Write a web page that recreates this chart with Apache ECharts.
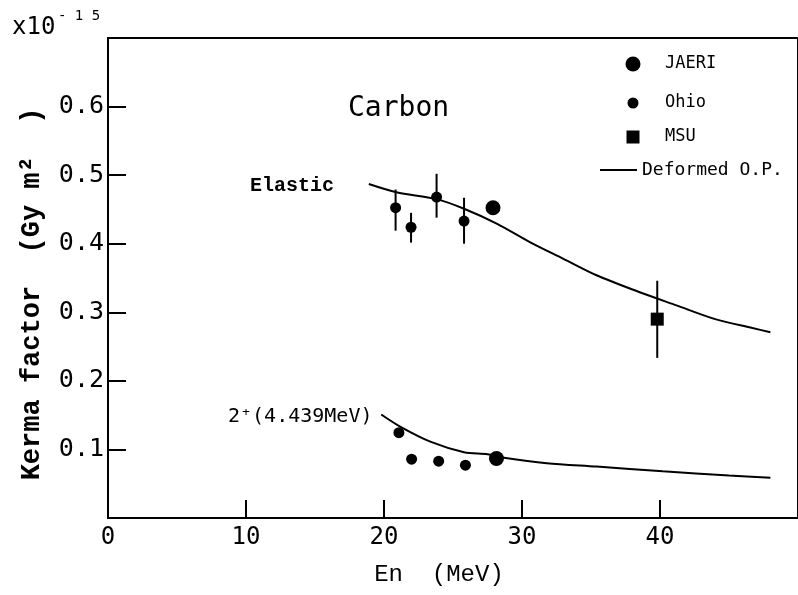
<!DOCTYPE html>
<html>
<head>
<meta charset="utf-8">
<script src="https://cdn.jsdelivr.net/npm/echarts@6/dist/echarts.min.js"></script>
<style>html,body{margin:0;padding:0;background:#fff}#c{width:798px;height:595px}</style>
</head>
<body>
<div id="c"></div>
<script>
// ---- data ----
var xTicks = [0, 10, 20, 30, 40];
var yTicks = [0.1, 0.2, 0.3, 0.4, 0.5, 0.6];

// Deformed O.P. calculations
var elasticCurve = [[18.9,0.487],[20.9,0.475],[23.8,0.465],[25.8,0.451],[28.2,0.429],[30.6,0.402],[33.0,0.378],[35.4,0.354],[38.3,0.331],[41.2,0.310],[44.0,0.290],[46.7,0.277],[48.0,0.271]];
var inelasticCurve = [[19.8,0.151],[21.2,0.133],[23.4,0.111],[25.8,0.096],[27.5,0.093],[28.7,0.088],[31.8,0.080],[35.4,0.075],[40.2,0.068],[45.0,0.062],[48.0,0.0586]];

// measurements
var ohioPoints = [[20.84,0.4525],[21.96,0.424],[23.81,0.468],[25.8,0.433],[21.08,0.1245],[22.0,0.0857],[23.96,0.0828],[25.9,0.077]];
var jaeriPoints = [[27.9,0.4525],[28.15,0.0867]];
var msuPoints = [[39.8,0.290]];

// error bars: [x, low, high]
var errorBars = [[20.84,0.419,0.479],[21.96,0.4016,0.445],[23.81,0.438,0.502],[25.8,0.400,0.467],[39.8,0.2335,0.346]];

var mono = "'DejaVu Sans Mono', monospace";
var serifMono = "'Liberation Mono', 'Courier New', monospace";

var chart = echarts.init(document.getElementById('c'), null, {renderer: 'canvas'});
chart.setOption({
  animation: false,
  backgroundColor: '#fff',
  grid: {left: 108, right: -7, top: 38, bottom: 77, show: true, borderColor: '#000', borderWidth: 2, backgroundColor: 'transparent'},
  xAxis: {
    type: 'value', min: 0, max: 50, interval: 10,
    name: 'En  (MeV)', nameLocation: 'middle', nameGap: 45,
    nameTextStyle: {fontFamily: serifMono, fontSize: 24, color: '#000', padding: [0, 28, 0, 0]},
    axisLine: {show: true, lineStyle: {color: '#000', width: 2}},
    axisTick: {show: true, inside: true, length: 18, lineStyle: {color: '#000', width: 2},
      customValues: xTicks},
    axisLabel: {fontFamily: mono, fontSize: 24, color: '#000', margin: 8,
      customValues: xTicks, formatter: function(v){ return xTicks.indexOf(v) >= 0 ? String(v) : ''; }},
    splitLine: {show: false}
  },
  yAxis: {
    type: 'value', min: 0, max: 0.7, interval: 0.1,
    name: 'Kerma factor  (Gy m\u00b2  )', nameLocation: 'middle', nameRotate: 90, nameGap: 62,
    nameTextStyle: {fontFamily: serifMono, fontSize: 27, color: '#000', fontWeight: 'bold', padding: [0, 32, 0, 0]},
    axisLine: {show: true, lineStyle: {color: '#000', width: 2}},
    axisTick: {show: true, inside: true, length: 18, lineStyle: {color: '#000', width: 2},
      customValues: yTicks},
    axisLabel: {fontFamily: mono, fontSize: 25, color: '#000', margin: 4,
      customValues: yTicks, formatter: function(v){ return v.toFixed(1); }},
    splitLine: {show: false}
  },
  legend: [
    {left: 625.5, top: 55.5, padding: 0, itemWidth: 15, itemHeight: 15, data: [{name: 'JAERI', icon: 'circle'}],
      textStyle: {fontFamily: mono, fontSize: 17, color: '#000', padding: [0, 0, 0, 19.5]}, selectedMode: false},
    {left: 627.5, top: 94.5, padding: 0, itemWidth: 11, itemHeight: 11, data: [{name: 'Ohio', icon: 'circle'}],
      textStyle: {fontFamily: mono, fontSize: 17, color: '#000', padding: [0, 0, 0, 21.5]}, selectedMode: false},
    {left: 626.5, top: 128.5, padding: 0, itemWidth: 13, itemHeight: 13, data: [{name: 'MSU', icon: 'rect'}],
      textStyle: {fontFamily: mono, fontSize: 17, color: '#000', padding: [0, 0, 0, 20.5]}, selectedMode: false},
    {left: 600, top: 161, padding: 0, itemWidth: 37, itemHeight: 14, data: [{name: 'Deformed O.P.', icon: 'path://M0,6H37V8H0Z'}],
      textStyle: {fontFamily: mono, fontSize: 18, color: '#000'}, selectedMode: false}
  ],
  graphic: [
    {type: 'text', left: 12, top: 16, style: {text: 'x10', fontFamily: mono, fontSize: 24, fill: '#000'}},
    {type: 'text', left: 58, top: 9, style: {text: '- 1 5', fontFamily: mono, fontSize: 14, fill: '#000'}},
    {type: 'text', left: 348, top: 95, style: {text: 'Carbon', fontFamily: mono, fontSize: 28, fill: '#000'}},
    {type: 'text', left: 250, top: 176, style: {text: 'Elastic', fontFamily: serifMono, fontSize: 20, fontWeight: 'bold', fill: '#000'}},
    {type: 'text', left: 228, top: 407, style: {text: '2\u207a(4.439MeV)', fontFamily: mono, fontSize: 20, fill: '#000'}}
  ],
  series: [
    {name: 'Deformed O.P.', type: 'line', data: elasticCurve, smooth: 0.3, showSymbol: false, symbol: 'none',
      lineStyle: {color: '#000', width: 2}, itemStyle: {color: '#000', opacity: 1}, z: 2},
    {name: 'Deformed O.P.', type: 'line', data: inelasticCurve, smooth: 0.3, showSymbol: false, symbol: 'none',
      lineStyle: {color: '#000', width: 2}, itemStyle: {color: '#000', opacity: 1}, z: 2},
    {name: 'errors', type: 'custom', data: errorBars, z: 3,
      renderItem: function(params, api) {
        var p1 = api.coord([api.value(0), api.value(1)]);
        var p2 = api.coord([api.value(0), api.value(2)]);
        return {type: 'line', shape: {x1: p1[0], y1: p1[1], x2: p2[0], y2: p2[1]}, style: {stroke: '#000', lineWidth: 2}};
      }},
    {name: 'Ohio', type: 'scatter', data: ohioPoints, symbol: 'circle', symbolSize: 11, itemStyle: {color: '#000', opacity: 1}, z: 4},
    {name: 'JAERI', type: 'scatter', data: jaeriPoints, symbol: 'circle', symbolSize: 15, itemStyle: {color: '#000', opacity: 1}, z: 4},
    {name: 'MSU', type: 'scatter', data: msuPoints, symbol: 'rect', symbolSize: 13, itemStyle: {color: '#000', opacity: 1}, z: 4}
  ]
});
</script>
</body>
</html>
